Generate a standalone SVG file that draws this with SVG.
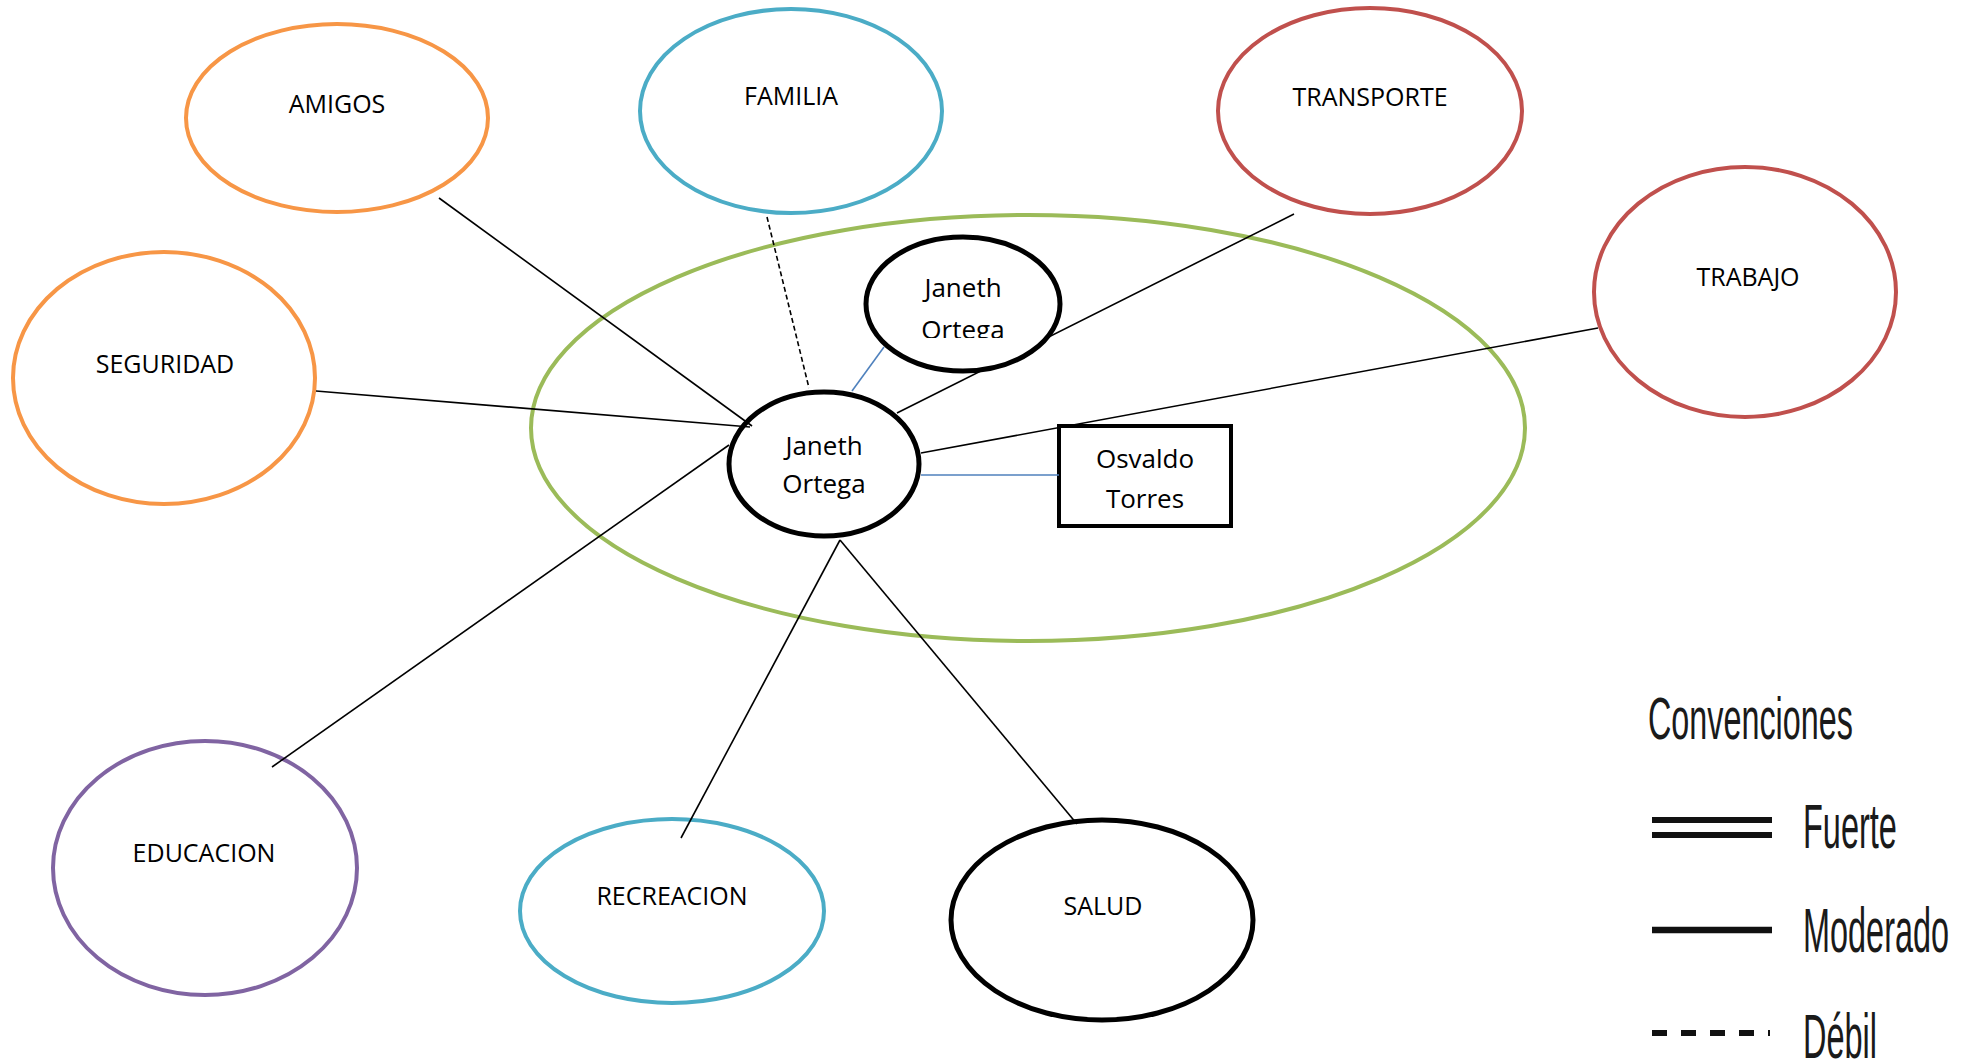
<svg xmlns="http://www.w3.org/2000/svg" width="1975" height="1064" viewBox="0 0 1975 1064">
<defs>
<style>
.lbl{font-family:"Open Sans","Liberation Sans",sans-serif;font-size:25px;fill:#000;text-anchor:middle}
.nm{font-family:"Open Sans","Liberation Sans",sans-serif;font-size:26px;fill:#000;text-anchor:middle}
.cat{fill:#fff;stroke-width:4}
.orange{stroke:#F79646}
.blue{stroke:#4BACC6}
.red{stroke:#C0504D}
.purple{stroke:#8064A2}
.blk{fill:#fff;stroke:#000;stroke-width:5}
.mod{stroke:#000;stroke-width:1.6;fill:none}
.deb{stroke:#000;stroke-width:1.6;fill:none;stroke-dasharray:5 3}
.rel{stroke:#4F81BD;stroke-width:1.6;fill:none}
.leg{font-family:"Liberation Sans",Arial,sans-serif;fill:#1a1a1a}
.legline{stroke:#111;fill:none}
</style>
<clipPath id="clipTop"><rect x="860" y="230" width="210" height="108"/></clipPath>
</defs>
<rect width="1975" height="1064" fill="#fff"/>

<g id="amigos"><ellipse class="cat orange" cx="337" cy="118" rx="151" ry="94"/><text class="lbl" x="337" y="113">AMIGOS</text></g>
<g id="familia"><ellipse class="cat blue" cx="791" cy="111" rx="151" ry="102"/><text class="lbl" x="791" y="105">FAMILIA</text></g>
<g id="transporte"><ellipse class="cat red" cx="1370" cy="111" rx="152" ry="103"/><text class="lbl" x="1370" y="106">TRANSPORTE</text></g>
<g id="trabajo"><ellipse class="cat red" cx="1745" cy="292" rx="151" ry="125"/><text class="lbl" x="1748" y="286">TRABAJO</text></g>
<g id="seguridad"><ellipse class="cat orange" cx="164" cy="378" rx="151" ry="126"/><text class="lbl" x="165" y="373">SEGURIDAD</text></g>
<g id="educacion"><ellipse class="cat purple" cx="205" cy="868" rx="152" ry="127"/><text class="lbl" x="204" y="862">EDUCACION</text></g>
<g id="recreacion"><ellipse class="cat blue" cx="672" cy="911" rx="152" ry="92"/><text class="lbl" x="672" y="905">RECREACION</text></g>
<g id="salud"><ellipse class="blk" cx="1102" cy="920" rx="151" ry="100"/><text class="lbl" x="1103" y="915">SALUD</text></g>

<g id="entorno"><ellipse cx="1028" cy="428" rx="497" ry="213" fill="none" stroke="#9BBB59" stroke-width="4"/></g>

<g id="janeth"><ellipse class="blk" cx="824" cy="464" rx="95" ry="72"/><text class="nm" x="824" y="455">Janeth</text><text class="nm" x="824" y="493">Ortega</text></g>
<g id="osvaldo"><rect x="1059" y="426" width="172" height="100" fill="#fff" stroke="#000" stroke-width="4"/><text class="nm" x="1145" y="468">Osvaldo</text><text class="nm" x="1145" y="508">Torres</text></g>

<g id="connectors">
<line class="mod" x1="439" y1="198" x2="752" y2="426"/>
<line class="deb" x1="767" y1="217" x2="809" y2="388"/>
<line class="mod" x1="1294" y1="214" x2="897" y2="413"/>
<line class="mod" x1="1598" y1="328" x2="921" y2="453"/>
<line class="mod" x1="316" y1="391" x2="750" y2="427"/>
<line class="mod" x1="272" y1="767" x2="729" y2="445"/>
<line class="mod" x1="681" y1="838" x2="840" y2="540"/>
<line class="mod" x1="1077" y1="824" x2="840" y2="540"/>
<line class="rel" x1="852" y1="391" x2="884" y2="347"/>
<line class="rel" x1="921" y1="475" x2="1059" y2="475"/>
</g>

<g id="janeth-top"><ellipse class="blk" cx="963" cy="304" rx="97" ry="67"/><g clip-path="url(#clipTop)"><text class="nm" x="963" y="297">Janeth</text><text class="nm" x="963" y="339">Ortega</text></g></g>

<g id="convenciones">
<text class="leg" font-size="60" transform="translate(1648,739) scale(0.539,1)">Convenciones</text>
<line class="legline" x1="1652" y1="820" x2="1772" y2="820" stroke-width="6"/>
<line class="legline" x1="1652" y1="835" x2="1772" y2="835" stroke-width="6"/>
<text class="leg" font-size="63" transform="translate(1803,848) scale(0.516,1)">Fuerte</text>
<line class="legline" x1="1652" y1="930" x2="1772" y2="930" stroke-width="6.5"/>
<text class="leg" font-size="63" transform="translate(1803,952) scale(0.515,1)">Moderado</text>
<line class="legline" x1="1652" y1="1033" x2="1770" y2="1033" stroke-width="6" stroke-dasharray="15 14"/>
<text class="leg" font-size="63" transform="translate(1803,1058) scale(0.516,1)">Débil</text>
</g>
</svg>
